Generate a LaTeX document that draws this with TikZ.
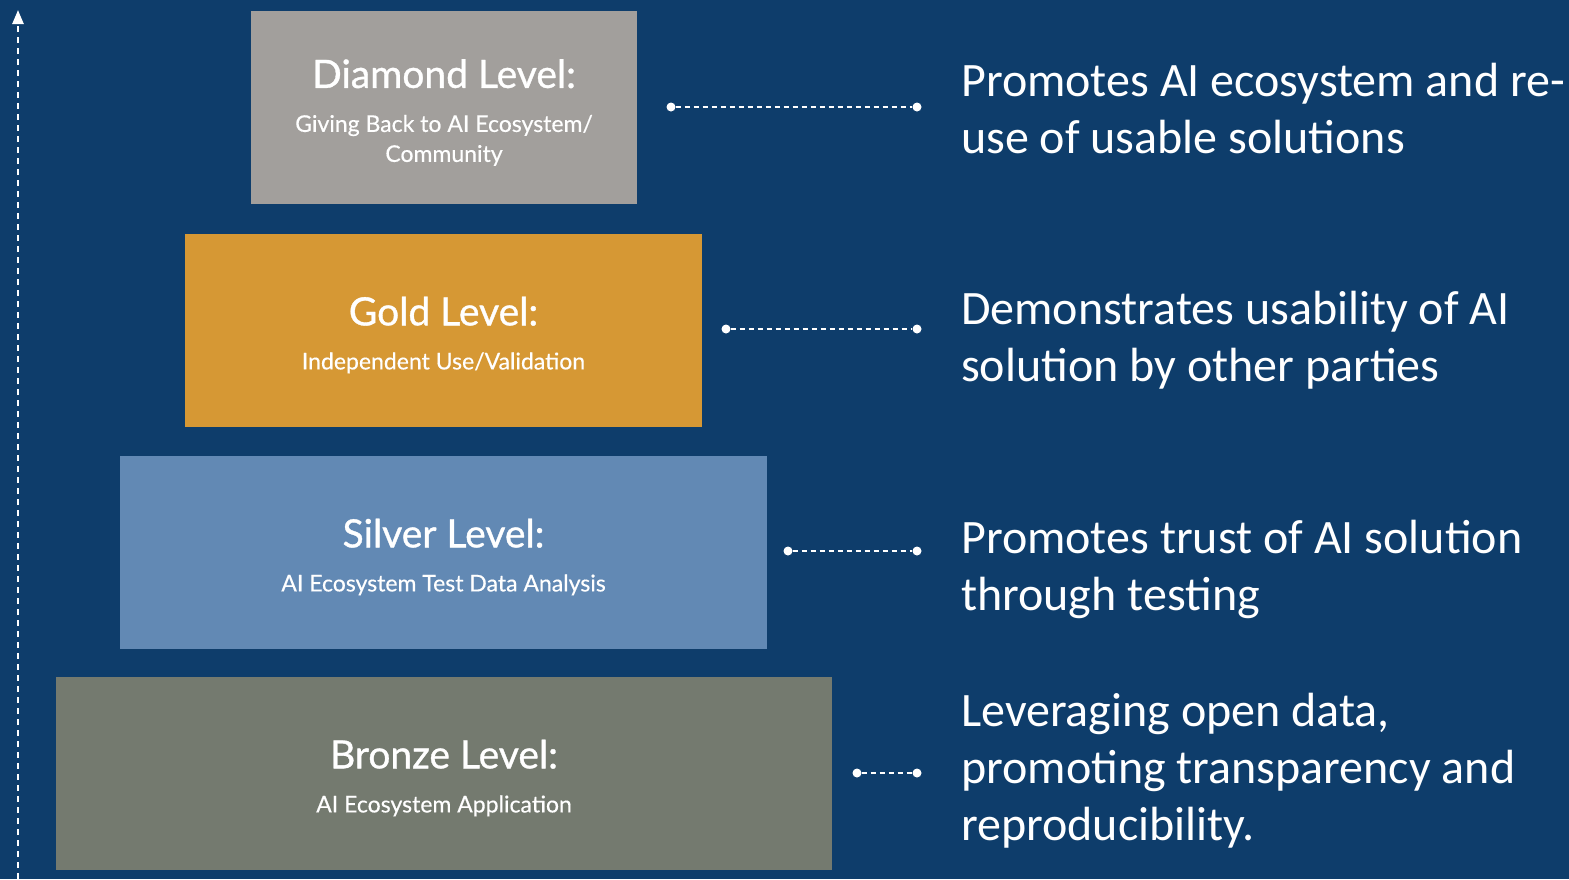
\documentclass[tikz,border=0pt]{standalone}
\usepackage{fontspec}
\setmainfont{Carlito}
\newfontfamily\levelfont[FakeBold=0.4]{Lato}
\newfontfamily\levelheadfont[FakeBold=0.9]{Lato}
\usetikzlibrary{positioning,calc,arrows.meta}

\definecolor{bgblue}{RGB}{14,61,107}
\definecolor{diamondgray}{RGB}{162,159,156}
\definecolor{goldbox}{RGB}{214,152,52}
\definecolor{silverbox}{RGB}{98,137,180}
\definecolor{bronzebox}{RGB}{116,122,111}

\tikzset{
  levelbox/.style={minimum height=193pt, inner sep=0pt},
  leveltext/.style={inner sep=0pt, align=center, text=white,
    font=\levelfont\fontsize{23}{30}\selectfont},
  dot/.style={circle, fill=white, inner sep=0pt, minimum size=9pt},
  link/.style={white, line width=2pt, dash pattern=on 5pt off 4pt},
  note/.style={anchor=west, align=left, inner sep=0pt, text=white, font=\fontsize{48}{57}\selectfont}
}

\newcommand{\leveltitle}{\levelheadfont\fontsize{39}{44}\selectfont}
\newcommand{\levelsub}{\levelfont\fontsize{23}{30}\selectfont}

\begin{document}
\begin{tikzpicture}[x=1pt,y=-1pt]
  % background
  \fill[bgblue] (0,0) rectangle (1569,879);
  \useasboundingbox (0,0) rectangle (1569,879);

  % axis on the left
  \coordinate (ax0) at (18,879);
  \coordinate (ax1) at (18,10);
  \draw[white, line width=2.5pt, dash pattern=on 6pt off 5pt, -{Triangle[width=11pt,length=14pt]}] (ax0) -- (ax1);

  % the four levels
  \node[levelbox, fill=diamondgray, minimum width=386pt] (diamond) at (444,107.5) {};
  \node[levelbox, fill=goldbox, minimum width=517pt] (gold) at (443.5,330) {};
  \node[levelbox, fill=silverbox, minimum width=647pt] (silver) at (443.5,552) {};
  \node[levelbox, fill=bronzebox, minimum width=776pt] (bronze) at (444,773) {};

  \node[leveltext] (diamond-text) at ([yshift=-5pt]diamond.center)
    {\leveltitle Diamond Level:\\[14pt]\levelsub Giving Back to AI Ecosystem/\\\levelsub Community};
  \node[leveltext] (gold-text) at ([yshift=-5pt]gold.center)
    {\leveltitle Gold Level:\\[14pt]\levelsub Independent Use/Validation};
  \node[leveltext] (silver-text) at ([yshift=-5pt]silver.center)
    {\leveltitle Silver Level:\\[14pt]\levelsub AI Ecosystem Test Data Analysis};
  \node[leveltext] (bronze-text) at ([yshift=-5pt]bronze.center)
    {\leveltitle Bronze Level:\\[14pt]\levelsub AI Ecosystem Application};

  % connectors
  \node[dot] (diamond-a) at (671,107) {};
  \node[dot] (diamond-b) at (917,107) {};
  \node[dot] (gold-a) at (726,329) {};
  \node[dot] (gold-b) at (917,329) {};
  \node[dot] (silver-a) at (788,551) {};
  \node[dot] (silver-b) at (917,551) {};
  \node[dot] (bronze-a) at (857,773) {};
  \node[dot] (bronze-b) at (917,773) {};
  \draw[link] (diamond-a) -- (diamond-b);
  \draw[link] (gold-a) -- (gold-b);
  \draw[link] (silver-a) -- (silver-b);
  \draw[link] (bronze-a) -- (bronze-b);

  % descriptions
  \node[note] (diamond-note) at (961,109) {Promotes AI ecosystem and re-\\use of usable solutions};
  \node[note] (gold-note) at (961,340) {Demonstrates usability of AI\\solution by other parties};
  \node[note] (silver-note) at (961,569) {Promotes trust of AI solution\\through testing};
  \node[note] (bronze-note) at (961,771) {Leveraging open data,\\promoting transparency and\\reproducibility.};
\end{tikzpicture}
\end{document}
